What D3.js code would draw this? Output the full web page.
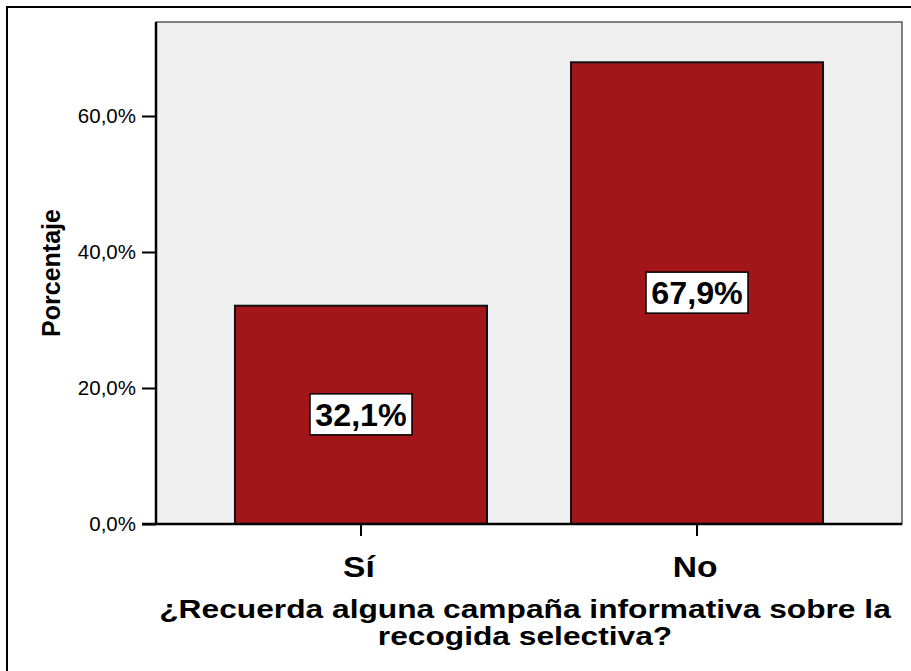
<!DOCTYPE html>
<html>
<head>
<meta charset="utf-8">
<script src="https://cdn.jsdelivr.net/npm/d3@7"></script>
<style>
  body { margin: 0; background: #fff; }
  svg { display: block; font-family: "Liberation Sans", Arial, sans-serif; }
</style>
</head>
<body>
<div id="chart"></div>
<script>
// data
var categories = ["Sí", "No"];
var percents = [32.1, 67.9];
var valueLabels = ["32,1%", "67,9%"];
var yTicks = [0, 20, 40, 60];
var xTitle = ["¿Recuerda alguna campaña informativa sobre la", "recogida selectiva?"];
var yTitle = "Porcentaje";

var W = 911, H = 671;
var plot = {left: 156, top: 22, right: 902, bottom: 524};

var svg = d3.select("#chart").append("svg")
    .attr("width", W)
    .attr("height", H);

// outer frame (runs off the right and bottom edge)
svg.append("rect")
    .attr("x", 7).attr("y", 7)
    .attr("width", W + 20).attr("height", H + 20)
    .attr("fill", "none")
    .attr("stroke", "#000")
    .attr("stroke-width", 2);

var y = d3.scaleLinear()
    .domain([0, (plot.bottom - plot.top) / 6.8])
    .range([plot.bottom, plot.top]);

var x = d3.scaleBand()
    .domain(categories)
    .range([plot.left, plot.right])
    .paddingInner(0.25)
    .paddingOuter(0.235);

// plot background
svg.append("rect")
    .attr("x", plot.left).attr("y", plot.top)
    .attr("width", plot.right - plot.left)
    .attr("height", plot.bottom - plot.top)
    .attr("fill", "#efefef")
    .attr("stroke", "#333")
    .attr("stroke-width", 1.2);

// bars
svg.selectAll(".bar")
    .data(percents)
    .enter().append("rect")
    .attr("class", "bar")
    .attr("x", function(d, i) { return x(categories[i]); })
    .attr("width", x.bandwidth())
    .attr("y", function(d) { return y(d); })
    .attr("height", function(d) { return y(0) - y(d); })
    .attr("fill", "#a2161a")
    .attr("stroke", "#111")
    .attr("stroke-width", 2);

// y axis
var yAxis = svg.append("g")
    .attr("transform", "translate(" + plot.left + ",0)")
    .call(d3.axisLeft(y)
        .tickValues(yTicks)
        .tickSize(14)
        .tickPadding(6)
        .tickFormat(function(d) { return d3.format(".1f")(d).replace(".", ",") + "%"; }));
yAxis.select(".domain").remove();
yAxis.selectAll("line").attr("stroke", "#000").attr("stroke-width", 2);
yAxis.selectAll("text")
    .attr("font-family", "Liberation Sans, Arial, sans-serif")
    .attr("font-size", 20.5)
    .attr("fill", "#000");

svg.append("line")
    .attr("x1", plot.left).attr("x2", plot.left)
    .attr("y1", plot.top).attr("y2", plot.bottom)
    .attr("stroke", "#000").attr("stroke-width", 2.5);

// x axis
var xAxis = svg.append("g")
    .attr("transform", "translate(0," + plot.bottom + ")")
    .call(d3.axisBottom(x).tickSize(12).tickPadding(0).tickFormat(""));
xAxis.select(".domain").remove();
xAxis.selectAll("line").attr("stroke", "#000").attr("stroke-width", 2);

svg.append("line")
    .attr("x1", plot.left - 14).attr("x2", plot.right)
    .attr("y1", plot.bottom).attr("y2", plot.bottom)
    .attr("stroke", "#000").attr("stroke-width", 2.5);

svg.selectAll(".xlab")
    .data(categories)
    .enter().append("text")
    .attr("class", "xlab")
    .attr("transform", function(d) {
        return "translate(" + (x(d) + x.bandwidth() / 2 - 2) + ",577) scale(1.12,1)";
    })
    .attr("text-anchor", "middle")
    .attr("font-weight", "bold")
    .attr("font-size", 30)
    .text(function(d) { return d; });

// value labels in boxes
var lab = svg.selectAll(".vlab")
    .data(percents)
    .enter().append("g")
    .attr("class", "vlab")
    .attr("transform", function(d, i) {
        return "translate(" + (x(categories[i]) + x.bandwidth() / 2) + "," + ((y(d) + y(0)) / 2) + ")";
    });
lab.append("rect")
    .attr("x", -51).attr("y", -21)
    .attr("width", 102).attr("height", 41)
    .attr("fill", "#fff")
    .attr("stroke", "#000")
    .attr("stroke-width", 1.5);
lab.append("text")
    .attr("text-anchor", "middle")
    .attr("y", 11)
    .attr("transform", "scale(1.04,1)")
    .attr("font-weight", "bold")
    .attr("font-size", 31)
    .text(function(d, i) { return valueLabels[i]; });

// axis titles
svg.append("text")
    .attr("transform", "translate(60," + ((plot.top + plot.bottom) / 2) + ") rotate(-90)")
    .attr("text-anchor", "middle")
    .attr("font-weight", "bold")
    .attr("font-size", 25)
    .text(yTitle);

svg.selectAll(".xtitle")
    .data(xTitle)
    .enter().append("text")
    .attr("class", "xtitle")
    .attr("transform", function(d, i) {
        return "translate(525," + (618 + i * 27) + ") scale(1.22,1)";
    })
    .attr("text-anchor", "middle")
    .attr("font-weight", "bold")
    .attr("font-size", 26)
    .text(function(d) { return d; });
</script>
</body>
</html>
